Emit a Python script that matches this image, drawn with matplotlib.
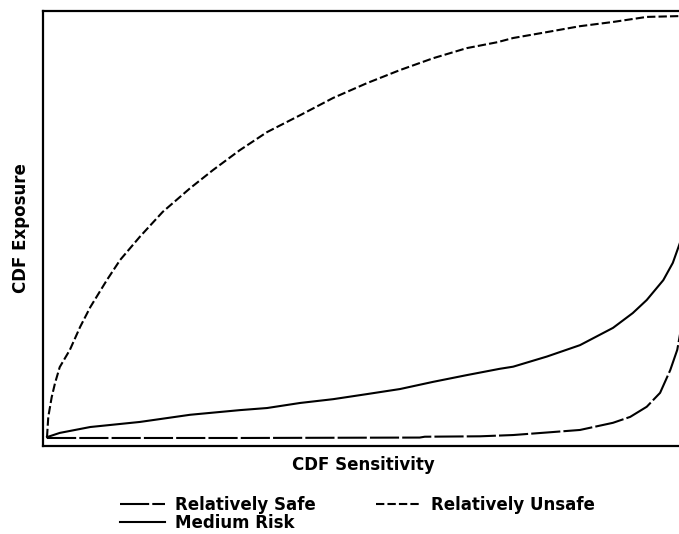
import matplotlib
matplotlib.use("Agg")
import matplotlib.pyplot as plt

# CDF of sensitivity (x) vs CDF of exposure (y)
safe_x = [0.0, 0.30, 0.586, 0.594, 0.681, 0.733, 0.786, 0.838, 0.890, 0.917,
          0.943, 0.964, 0.980, 0.991, 0.997]
safe_y = [0.0, 0.0, 0.001, 0.003, 0.004, 0.007, 0.013, 0.019, 0.036, 0.050,
          0.074, 0.107, 0.161, 0.209, 0.26]

unsafe_x = [0.0, 0.002, 0.0074, 0.0126, 0.020, 0.036, 0.052, 0.068, 0.094, 0.115,
            0.146, 0.182, 0.225, 0.261, 0.303, 0.346, 0.398, 0.450, 0.503, 0.555,
            0.607, 0.660, 0.708, 0.733, 0.786, 0.838, 0.890, 0.943, 0.997]
unsafe_y = [0.002, 0.050, 0.097, 0.130, 0.168, 0.209, 0.263, 0.310, 0.374, 0.422,
            0.477, 0.536, 0.592, 0.635, 0.682, 0.725, 0.765, 0.806, 0.841, 0.872,
            0.900, 0.924, 0.938, 0.948, 0.962, 0.976, 0.986, 0.998, 1.0]

medium_x = [0.0, 0.020, 0.068, 0.146, 0.225, 0.303, 0.346, 0.398, 0.450, 0.503,
            0.555, 0.607, 0.660, 0.712, 0.733, 0.786, 0.838, 0.890, 0.921, 0.943,
            0.969, 0.984, 0.997]
medium_y = [0.002, 0.012, 0.026, 0.038, 0.055, 0.066, 0.071, 0.083, 0.092, 0.104,
            0.116, 0.133, 0.149, 0.164, 0.169, 0.193, 0.220, 0.261, 0.296, 0.327,
            0.374, 0.415, 0.47]

plt.rcParams['font.family'] = ['DejaVu Sans']
plt.rcParams['font.weight'] = 'bold'

fig = plt.figure(figsize=(6.79, 5.34), dpi=100)
ax = fig.add_axes([43 / 679, 88 / 534, 641 / 679, 435 / 534])

l_safe, = ax.plot(safe_x, safe_y, color='black', lw=1.5, dashes=(14, 1.5),
                  label='Relatively Safe')
l_unsafe, = ax.plot(unsafe_x, unsafe_y, color='black', lw=1.5, dashes=(4, 1.5),
                    label='Relatively Unsafe')
l_med, = ax.plot(medium_x, medium_y, color='black', lw=1.5, label='Medium Risk')

ax.set_xlim(-0.0063, 1.0016)
ax.set_ylim(-0.019, 1.012)
ax.set_xticks([])
ax.set_yticks([])
for sp in ax.spines.values():
    sp.set_linewidth(1.6)

ax.set_xlabel('CDF Sensitivity', fontsize=12, fontweight='bold', labelpad=7)
ax.set_ylabel('CDF Exposure', fontsize=12, fontweight='bold', labelpad=9)

# column-first fill: Safe / Medium in col 1, Unsafe in col 2
fig.legend([l_safe, l_med, l_unsafe],
           ['Relatively Safe', 'Medium Risk', 'Relatively Unsafe'],
           ncol=2, loc='upper left', bbox_to_anchor=(120 / 679, 1 - 496 / 534),
           frameon=False, fontsize=12, handlelength=2.7, handletextpad=0.6,
           columnspacing=3.6, labelspacing=0.0, borderpad=0, borderaxespad=0)

fig.savefig('out.png', dpi=100)
